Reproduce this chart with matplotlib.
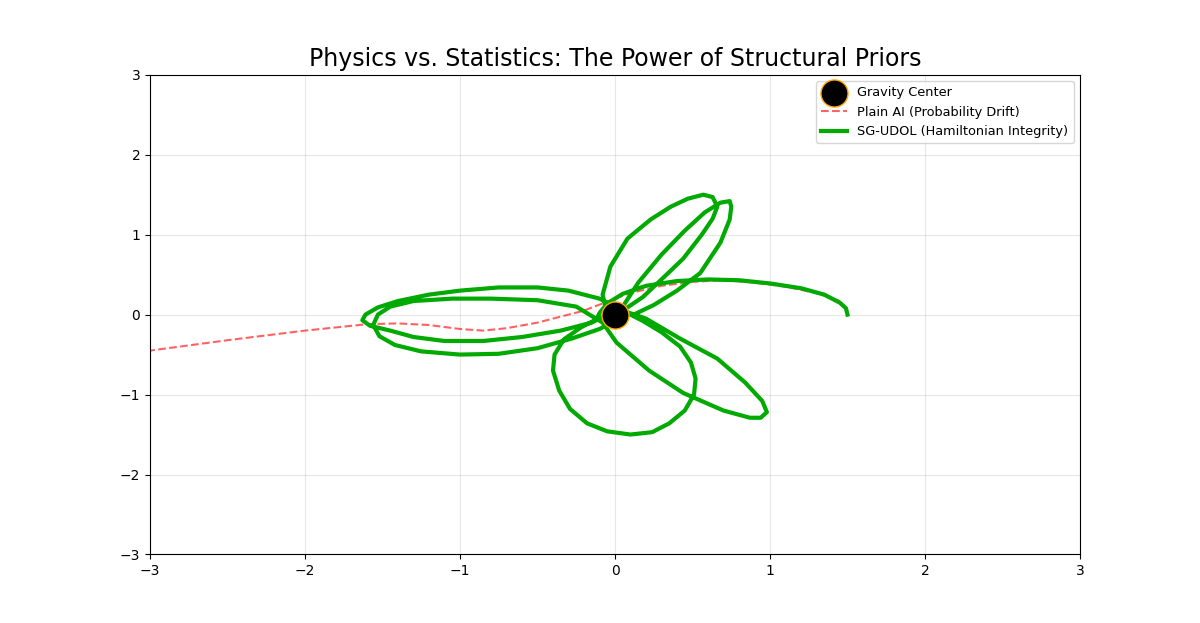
import matplotlib
matplotlib.use("Agg")
import matplotlib.pyplot as plt

# SG-UDOL orbit, points (data coordinates)
orbit_x = [1.5, 1.49, 1.45, 1.35, 1.2, 1.0, 0.8, 0.6, 0.4, 0.2, 0.05, -0.05, -0.1,
           # lower circle
           -0.12, -0.22, -0.33, -0.39, -0.4, -0.36, -0.29, -0.18, -0.05, 0.1, 0.24, 0.35,
           0.45, 0.51, 0.52, 0.49, 0.42, 0.3, 0.18, 0.05, -0.1,
           # left petal A
           -0.3, -0.5, -0.75, -1.0, -1.2, -1.4, -1.53, -1.61, -1.63, -1.58, -1.45,
           -1.3, -1.1, -0.85, -0.6, -0.35, -0.15, -0.05,
           # top petal 1
           -0.08, -0.03, 0.08, 0.23, 0.36, 0.47, 0.57, 0.63, 0.66, 0.63, 0.56, 0.44,
           0.3, 0.18, 0.05,
           # lower-right petal
           0.2, 0.42, 0.66, 0.84, 0.95, 0.98, 0.94, 0.87, 0.7, 0.44, 0.22, 0.01, -0.08,
           # left petal B
           -0.25, -0.5, -0.8, -1.05, -1.3, -1.45, -1.53, -1.56, -1.52, -1.42, -1.25,
           -1.0, -0.75, -0.5, -0.28, -0.1, 0.02,
           # top petal 2
           0.05, 0.15, 0.3, 0.45, 0.58, 0.68, 0.74, 0.75, 0.74, 0.68, 0.55, 0.4, 0.25, 0.12]
orbit_y = [0.0, 0.08, 0.15, 0.25, 0.33, 0.39, 0.43, 0.44, 0.42, 0.36, 0.26, 0.14, 0.02,
           -0.06, -0.16, -0.31, -0.5, -0.7, -0.95, -1.18, -1.36, -1.46, -1.5, -1.47, -1.36,
           -1.2, -1.0, -0.8, -0.6, -0.4, -0.22, -0.08, 0.05, 0.2,
           0.3, 0.34, 0.34, 0.3, 0.25, 0.17, 0.09, 0.0, -0.07, -0.14, -0.2,
           -0.28, -0.33, -0.33, -0.28, -0.2, -0.1, 0.0,
           0.25, 0.6, 0.95, 1.19, 1.35, 1.45, 1.5, 1.47, 1.35, 1.2, 1.0, 0.7,
           0.44, 0.22, 0.05,
           -0.05, -0.3, -0.55, -0.85, -1.08, -1.22, -1.29, -1.29, -1.2, -0.98,
           -0.7, -0.35, -0.1,
           0.1, 0.18, 0.2, 0.2, 0.17, 0.1, 0.0, -0.13, -0.27, -0.38, -0.46,
           -0.5, -0.49, -0.42, -0.3, -0.18, -0.06,
           0.1, 0.4, 0.75, 1.05, 1.28, 1.4, 1.42, 1.35, 1.19, 0.9, 0.52, 0.3, 0.12, 0.0]

# Plain AI drift path
drift_x = [1.45, 1.3, 1.1, 0.9, 0.7, 0.5, 0.3, 0.1, 0.0, -0.2, -0.5, -0.7, -0.85,
           -1.0, -1.2, -1.4, -1.6, -2.0, -2.5, -3.0]
drift_y = [0.17, 0.27, 0.35, 0.4, 0.43, 0.41, 0.36, 0.27, 0.2, 0.05, -0.1, -0.17, -0.2,
           -0.18, -0.13, -0.11, -0.12, -0.2, -0.32, -0.45]

fig, ax = plt.subplots(figsize=(12, 6.23), dpi=100)

ax.scatter([0], [0], s=380, color='black', edgecolors='orange', zorder=5,
           label='Gravity Center')
ax.plot(drift_x, drift_y, '--', color='#ff3b3b', alpha=0.8, linewidth=1.5,
        label='Plain AI (Probability Drift)')
ax.plot(orbit_x, orbit_y, color='#00aa00', linewidth=3,
        label='SG-UDOL (Hamiltonian Integrity)')

ax.set_xlim(-3, 3)
ax.set_ylim(-3, 3)
ax.grid(True, alpha=0.3)
ax.set_title('Physics vs. Statistics: The Power of Structural Priors', fontsize=17)
ax.legend(loc='upper right', fontsize=9.3)

plt.subplots_adjust(left=0.125, right=0.9, top=0.88, bottom=0.11)
plt.savefig('out.png', dpi=100)
